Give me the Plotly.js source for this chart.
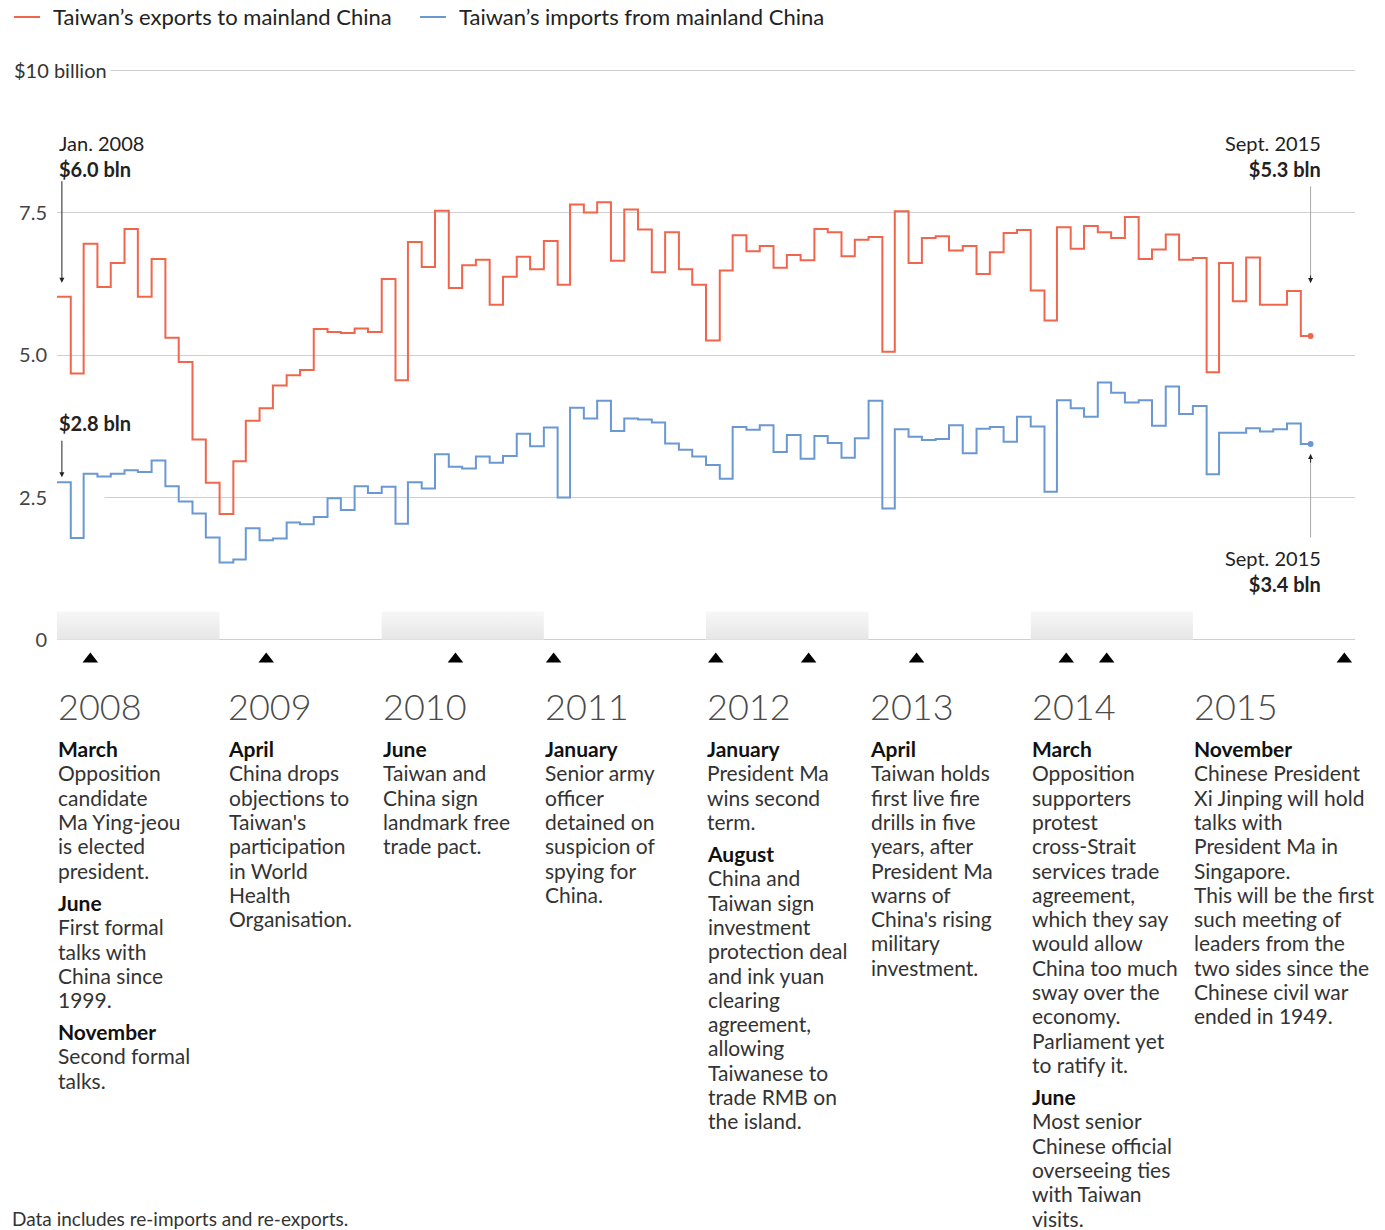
<!DOCTYPE html>
<html><head><meta charset="utf-8">
<script src="https://cdn.plot.ly/plotly-3.0.1.min.js"></script>
<style>html,body{margin:0;padding:0;background:#fff}#chart{width:1385px;height:1230px}</style>
</head><body><div id="chart"></div>
<script>
// ---------- DATA ----------
const seriesNames = ['Taiwan’s exports to mainland China', 'Taiwan’s imports from mainland China'];
const firstMonth = [2008, 1];
// monthly values, $ billion, Jan 2008 - Sept 2015
const exportsBn = [
  6.03,4.68,6.96,6.20,6.62,7.22,6.03,6.69,5.31,4.88,3.52,2.76,
  2.21,3.14,3.85,4.07,4.47,4.65,4.74,5.46,5.41,5.39,5.47,5.41,
  6.34,4.56,6.99,6.55,7.54,6.18,6.58,6.68,5.89,6.38,6.73,6.51,
  7.01,6.24,7.65,7.51,7.69,6.66,7.56,7.21,6.46,7.16,6.51,6.24,
  5.26,6.49,7.11,6.83,6.92,6.54,6.76,6.67,7.22,7.16,6.74,7.03,
  7.08,5.06,7.53,6.62,7.06,7.09,6.84,6.92,6.43,6.81,7.15,7.20,
  6.14,5.61,7.25,6.87,7.27,7.16,7.06,7.43,6.69,6.86,7.12,6.68,
  6.71,4.70,6.62,5.95,6.72,5.89,5.89,6.13,5.34
];
const importsBn = [
  2.77,1.79,2.92,2.87,2.92,2.98,2.95,3.15,2.70,2.43,2.22,1.80,
  1.36,1.41,1.96,1.75,1.78,2.06,2.03,2.16,2.49,2.28,2.70,2.58,
  2.69,2.04,2.77,2.66,3.26,3.04,3.01,3.22,3.11,3.23,3.62,3.40,
  3.73,2.50,4.08,3.89,4.20,3.67,3.89,3.87,3.82,3.45,3.34,3.22,
  3.07,2.83,3.74,3.69,3.77,3.30,3.60,3.18,3.58,3.46,3.20,3.54,
  4.20,2.31,3.70,3.57,3.51,3.53,3.77,3.28,3.71,3.74,3.48,3.92,
  3.75,2.60,4.21,4.07,3.92,4.52,4.34,4.17,4.21,3.76,4.45,3.97,
  4.11,2.91,3.64,3.64,3.72,3.66,3.70,3.80,3.44
];
const lastLabelDate = '2015-09-23';
const yTickVals = [0, 2.5, 5, 7.5, 10];
const yTickText = ['0', '2.5', '5.0', '7.5', ''];
const years = [2008, 2009, 2010, 2011, 2012, 2013, 2014, 2015];
const shadedYears = [2008, 2010, 2012, 2014];
const eventDates = ['2008-03-16','2009-04-16','2010-06-16','2011-01-23','2012-01-23','2012-08-19','2013-04-19','2014-03-22','2014-06-21','2015-12-08'];

const notes2008 = [['March', ['Opposition','candidate','Ma Ying-jeou','is elected','president.']],
                   ['June', ['First formal','talks with','China since','1999.']],
                   ['November', ['Second formal','talks.']]];
const notes2009 = [['April', ['China drops','objections to','Taiwan\'s','participation','in World','Health','Organisation.']]];
const notes2010 = [['June', ['Taiwan and','China sign','landmark free','trade pact.']]];
const notes2011 = [['January', ['Senior army','officer','detained on','suspicion of','spying for','China.']]];
const notes2012 = [['January', ['President Ma','wins second','term.']],
                   ['August', ['China and','Taiwan sign','investment','protection deal','and ink yuan','clearing','agreement,','allowing','Taiwanese to','trade RMB on','the island.']]];
const notes2013 = [['April', ['Taiwan holds','first live fire','drills in five','years, after','President Ma','warns of','China\'s rising','military','investment.']]];
const notes2014 = [['March', ['Opposition','supporters','protest','cross-Strait','services trade','agreement,','which they say','would allow','China too much','sway over the','economy.','Parliament yet','to ratify it.']],
                   ['June', ['Most senior','Chinese official','overseeing ties','with Taiwan','visits.']]];
const notes2015 = [['November', ['Chinese President','Xi Jinping will hold','talks with','President Ma in','Singapore.','This will be the first','such meeting of','leaders from the','two sides since the','Chinese civil war','ended in 1949.']]];
const notesByYear = [notes2008, notes2009, notes2010, notes2011, notes2012, notes2013, notes2014, notes2015];

// ---------- BUILD ----------
const months = [];
for (let i = 0; i < exportsBn.length; i++) {
  const y = firstMonth[0] + Math.floor((firstMonth[1] - 1 + i) / 12);
  const m = (firstMonth[1] - 1 + i) % 12 + 1;
  months.push(y + '-' + String(m).padStart(2, '0') + '-01');
}
const lastIdx = exportsBn.length - 1;
const PL = 57, PR = 1355, PT = 69, PB = 674;   // plot area edges in px
const py = Y => (PB - Y) / (PB - PT);          // pixel row -> paper y
const pxp = X => (X - PL) / (PR - PL);         // pixel column -> paper x
const ORANGE = '#f0654b', BLUE = '#6a98d3';
const FONT = 'Lato, "Source Sans Pro", Roboto, sans-serif';

// shaded bands
const bx = [], by = [];
shadedYears.forEach(y => {
  const a = y + '-01-01', b = (y + 1) + '-01-01';
  bx.push(a, b, b, a, a, null); by.push(0, 0, 0.5, 0.5, 0, null);
});

const traces = [
  {x: bx, y: by, type: 'scatter', mode: 'none', fill: 'toself', fillcolor: '#ececec',
   fillgradient: {type: 'vertical', start: 0, stop: 0.5, colorscale: [[0, '#e6e6e6'], [1, '#f7f7f7']]},
   hoverinfo: 'skip', showlegend: false},
  {x: months.concat([lastLabelDate]), y: exportsBn.concat([exportsBn[lastIdx]]), name: seriesNames[0],
   type: 'scatter', mode: 'lines', line: {color: ORANGE, width: 2, shape: 'hv'}, showlegend: false},
  {x: months.concat([lastLabelDate]), y: importsBn.concat([importsBn[lastIdx]]), name: seriesNames[1],
   type: 'scatter', mode: 'lines', line: {color: BLUE, width: 2, shape: 'hv'}, showlegend: false},
  {x: [lastLabelDate], y: [exportsBn[lastIdx]], type: 'scatter', mode: 'markers',
   marker: {color: ORANGE, size: 6}, showlegend: false},
  {x: [lastLabelDate], y: [importsBn[lastIdx]], type: 'scatter', mode: 'markers',
   marker: {color: BLUE, size: 6}, showlegend: false},
  {x: eventDates, y: eventDates.map(() => -0.34), type: 'scatter', mode: 'markers',
   marker: {symbol: 'triangle-up', size: 13.5, color: '#000'}, showlegend: false}
];

const ann = [];
const shapes = [];
// legend (drawn as key lines + labels)
const legendKeys = [[14, 52, ORANGE], [420, 458, BLUE]];
legendKeys.forEach(([x0, tx, c], i) => {
  shapes.push({type: 'line', xref: 'paper', yref: 'paper', x0: pxp(x0), x1: pxp(x0 + 26), y0: py(17), y1: py(17),
    line: {color: c, width: 2}});
  ann.push({xref: 'paper', x: pxp(tx - 1), xanchor: 'left', yref: 'paper', y: py(17), yanchor: 'middle',
    text: seriesNames[i], showarrow: false, font: {family: FONT, size: 22, color: '#222'}});
});
// $10 billion label
ann.push({xref: 'paper', x: pxp(10), xanchor: 'left', yref: 'y', y: 10, yanchor: 'middle', yshift: 1,
  text: '$10 billion', showarrow: false, bgcolor: '#fff', borderpad: 3,
  font: {family: FONT, size: 20, color: '#333'}});
// value call-outs
ann.push({xref: 'x', x: months[0], xanchor: 'left', yref: 'paper', y: py(156), yanchor: 'middle', align: 'left',
  text: 'Jan. 2008<br><b>$' + exportsBn[0].toFixed(1) + ' bln</b>', showarrow: false,
  font: {family: FONT, size: 20, color: '#222'}});
ann.push({xref: 'x', x: months[0], xanchor: 'left', yref: 'paper', y: py(423), yanchor: 'middle', align: 'left',
  text: '<b>$' + importsBn[0].toFixed(1) + ' bln</b>', showarrow: false,
  font: {family: FONT, size: 20, color: '#222'}});
ann.push({xref: 'x', x: lastLabelDate, xanchor: 'right', xshift: 12, yref: 'paper', y: py(156), yanchor: 'middle', align: 'right',
  text: 'Sept. 2015<br><b>$' + exportsBn[lastIdx].toFixed(1) + ' bln</b>', showarrow: false,
  font: {family: FONT, size: 20, color: '#222'}});
ann.push({xref: 'x', x: lastLabelDate, xanchor: 'right', xshift: 12, yref: 'paper', y: py(571), yanchor: 'middle', align: 'right',
  text: 'Sept. 2015<br><b>$' + importsBn[lastIdx].toFixed(1) + ' bln</b>', showarrow: false,
  font: {family: FONT, size: 20, color: '#222'}});
// arrows
const arrow = (x, y, ay, standoff, color, head) => ({xref: 'x', yref: 'y', x, y, ax: 0, ay, text: '',
  showarrow: true, arrowhead: head ? 2 : 0, arrowsize: 1, arrowwidth: 1, arrowcolor: color, standoff});
ann.push(arrow('2008-01-12', exportsBn[0], -117, 14, '#222', true));
ann.push(arrow('2008-01-12', importsBn[0], -43, 5, '#222', true));
ann.push(arrow(lastLabelDate, exportsBn[lastIdx], -151, 53, '#aaa', false));
ann.push(arrow(lastLabelDate, exportsBn[lastIdx], -62, 53, '#222', true));
ann.push(arrow(lastLabelDate, importsBn[lastIdx], 95, 10, '#aaa', false));
ann.push(arrow(lastLabelDate, importsBn[lastIdx], 20, 10, '#222', true));

// year labels + notes
const LINE_H = 24.31, BLOCK_GAP = 8, FIRST_TOP = 734;
years.forEach((yr, i) => {
  const shift = yr === 2009 ? 7 : 0;
  ann.push({xref: 'x', x: yr + '-01-01', xanchor: 'left', xshift: shift - 1, yref: 'paper', y: py(706), yanchor: 'middle',
    text: String(yr), showarrow: false, font: {family: FONT, size: 36, weight: 300, color: '#4a4a4a'}});
  let top = FIRST_TOP;
  notesByYear[i].forEach(([head, lines]) => {
    const sp = (s, c) => '<span style="font-size:21px;color:' + c + '">' + s + '</span>';
    const text = [sp('<b>' + head + '</b>', '#111')].concat(lines.map(l => sp(l, '#333'))).join('<br>');
    ann.push({xref: 'x', x: yr + '-01-01', xanchor: 'left', xshift: shift - 1, yref: 'paper', y: py(top), yanchor: 'top',
      align: 'left', text, showarrow: false, font: {family: FONT, size: 18.7, color: '#333'}});
    top += (lines.length + 1) * LINE_H + BLOCK_GAP;
  });
});
// footnote
ann.push({xref: 'paper', x: pxp(10), xanchor: 'left', yref: 'paper', y: py(1218), yanchor: 'middle',
  text: 'Data includes re-imports and re-exports.', showarrow: false, font: {family: FONT, size: 19, color: '#333'}});

// gap in the 2.5 gridline at the far left, as in the original
shapes.push({type: 'rect', xref: 'x', yref: 'y', x0: '2008-01-01', x1: '2008-04-17', y0: 2.45, y1: 2.55,
  fillcolor: '#fff', line: {width: 0}, layer: 'between'});

const layout = {
  width: 1385, height: 1230,
  margin: {l: PL, r: 1385 - PR, t: PT, b: 1230 - PB, pad: 0},
  paper_bgcolor: '#fff', plot_bgcolor: '#fff',
  font: {family: FONT, size: 20, color: '#333'},
  showlegend: false,
  xaxis: {type: 'date', range: ['2008-01-01', '2016-01-01'], showticklabels: false, showgrid: false,
    zeroline: false, showline: false, fixedrange: true},
  yaxis: {range: [-0.6, 10.03], tickvals: yTickVals, ticktext: yTickText, showgrid: true, gridcolor: '#cfcfcf',
    gridwidth: 1, zeroline: false, showline: false, ticks: '', ticklabelstandoff: 9,
    tickfont: {family: FONT, size: 20, color: '#444'}, fixedrange: true},
  shapes: shapes,
  annotations: ann,
  hovermode: false
};
Plotly.newPlot('chart', traces, layout, {displayModeBar: false, staticPlot: true});
</script>
</body></html>
